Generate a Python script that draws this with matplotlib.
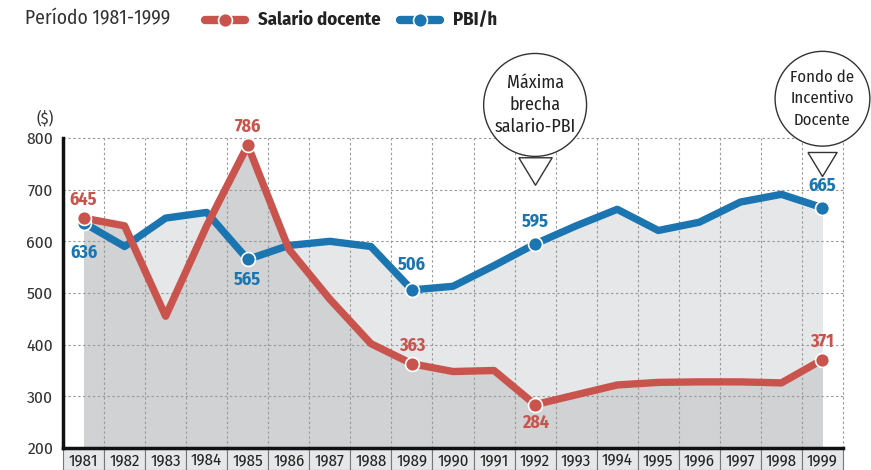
import matplotlib
matplotlib.use('Agg')
import matplotlib.pyplot as plt
import numpy as np
from matplotlib.lines import Line2D
from matplotlib.patches import Rectangle
import matplotlib.transforms as mtrans

years = [str(y) for y in range(1981, 2000)]
salario = [645, 630, 455, 630, 786, 585, 488, 402, 363, 348, 350, 284, 303, 322, 327, 328, 328, 326, 371]
pbi = [636, 590, 645, 656, 565, 592, 600, 590, 506, 513, 553, 595, 630, 662, 621, 637, 676, 691, 665]
yticks = [200, 300, 400, 500, 600, 700, 800]

# labelled points: (index, vertical offset of label centre in points)
sal_labels = [(0, 13), (4, 13), (8, 13), (11, -13), (18, 13)]
pbi_labels = [(0, -22), (4, -15), (8, 18), (11, 16), (18, 16)]

RED = '#c9544d'
BLUE = '#1b75b0'
FONT = ['Fira Sans Condensed', 'DejaVu Sans']
plt.rcParams['font.family'] = FONT

fig = plt.figure(figsize=(8.71, 4.70), dpi=100)
ax = fig.add_axes([63/871, 22/470, 780/871, 310/470])
x = np.arange(len(years))
ax.set_xlim(-0.5, len(years) - 0.5)
ax.set_ylim(200, 800)

ax.fill_between(x, 200, pbi, color='#e6e7e8', lw=0, zorder=1)
ax.fill_between(x, 200, salario, color='#d1d2d4', lw=0, zorder=1.1)

grid_kw = dict(color='#9a9a9a', lw=0.8, ls=(0, (2.2, 2.2)), zorder=1.5, clip_on=False)
for v in yticks[1:]:
    ax.axhline(v, **grid_kw)
for k in range(len(years)):
    ax.axvline(k + 0.5, **grid_kw)

ax.plot(x, pbi, color=BLUE, lw=5.3, zorder=3, solid_capstyle='butt')
ax.plot(x, salario, color=RED, lw=5.3, zorder=4, solid_capstyle='butt')

for i, off in pbi_labels:
    ax.plot(x[i], pbi[i], 'o', ms=10, mfc=BLUE, mec='white', mew=1.2, zorder=5)
    ax.annotate(str(pbi[i]), (x[i], pbi[i]), xytext=(0, off), textcoords='offset points',
                ha='center', va='center', fontsize=13, fontweight='bold', color=BLUE, zorder=7)
for i, off in sal_labels:
    ax.plot(x[i], salario[i], 'o', ms=10, mfc=RED, mec='white', mew=1.2, zorder=6)
    ax.annotate(str(salario[i]), (x[i], salario[i]), xytext=(0, off), textcoords='offset points',
                ha='center', va='center', fontsize=13, fontweight='bold', color=RED, zorder=7)

# axes styling
for s in ['top', 'right']:
    ax.spines[s].set_visible(False)
ax.spines['left'].set_linewidth(2.5)
ax.spines['bottom'].set_linewidth(2.5)
ax.spines['left'].set_color('#111111')
ax.spines['bottom'].set_color('#111111')
ax.spines['left'].set_zorder(8)
ax.spines['bottom'].set_zorder(8)
ax.set_yticks(yticks)
ax.set_yticklabels([str(v) for v in yticks], fontsize=12.5, color='#333333')
ax.tick_params(axis='y', length=0, pad=7)
ax.set_xticks([])
ax.text(-0.012, 1.035, '($)', transform=ax.transAxes, ha='right', va='bottom', fontsize=11.5, color='#333333')

# x label boxes
trans = mtrans.blended_transform_factory(ax.transData, ax.transAxes)
bh = 22 / 310
for k, lab in enumerate(years):
    ax.add_patch(Rectangle((k - 0.5, -bh), 1, bh, transform=trans, fc='#e6e7e8', ec='#777777',
                           lw=0.8, clip_on=False, zorder=0))
    ax.text(k, -bh / 2 - 0.004, lab, transform=trans, ha='center', va='center', fontsize=12, color='#222222')

# callout bubbles
tri = [(-17, 14), (17, 14), (0, -14), (-17, 14)]
bubbles = [(11, 864, 736, 'Máxima\nbrecha\nsalario-PBI', 24, 13, 1.3, 0.6),
           (18, 876, 749, 'Fondo de\nIncentivo\nDocente', 21, 12, 1.45, 0.92)]
for i, ty, tri_y, txt, ms, fs, lsp, pad in bubbles:
    ax.text(x[i], ty, txt, ha='center', va='center', fontsize=fs, color='#222222', linespacing=lsp,
            bbox=dict(boxstyle=f'circle,pad={pad}', fc='white', ec='#333333', lw=1), clip_on=False, zorder=9)
    ax.plot(x[i], tri_y, marker=tri, ms=ms, mfc='white', mec='#333333', mew=1, clip_on=False, zorder=9)

# title and legend
fig.text(25/871, 1 - 19/470, 'Período 1981-1999', fontsize=14, va='center', ha='left', color='#333333')
for x0, col, lab in [(205, RED, 'Salario docente'), (400, BLUE, 'PBI/h')]:
    yl = 1 - 20/470
    fig.add_artist(Line2D([x0/871, (x0 + 40)/871], [yl, yl], color=col, lw=6, solid_capstyle='round'))
    fig.add_artist(Line2D([(x0 + 20)/871], [yl], marker='o', ms=10, mfc=col, mec='white', mew=1.2))
    fig.text((x0 + 53)/871, yl, lab, fontsize=13.5, fontweight='bold', va='center', ha='left', color='#222222')

fig.savefig('out.png', dpi=100)
